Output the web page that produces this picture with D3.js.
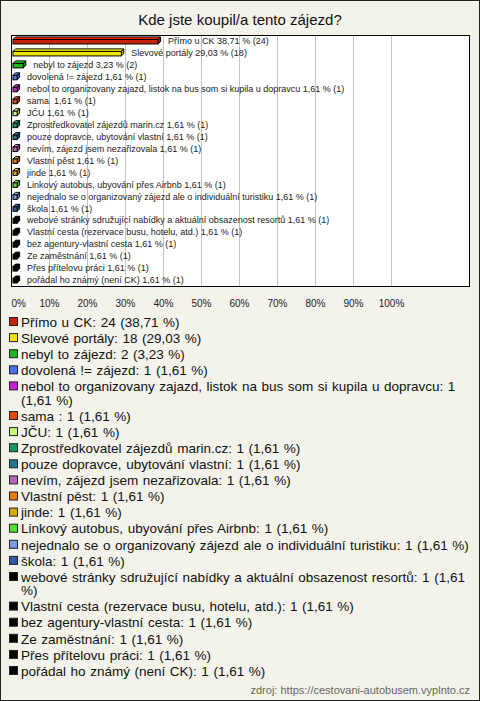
<!DOCTYPE html>
<html><head><meta charset="utf-8">
<script src="https://cdn.jsdelivr.net/npm/d3@7/dist/d3.min.js"></script>
<style>
body{margin:0;background:#fff;}
svg{display:block;font-family:Arial,"Liberation Sans",sans-serif;}
</style></head>
<body>
<svg id="c" width="480" height="701"></svg>
<script>
const title = "Kde jste koupil/a tento zájezd?";
const categories = [
  "Přímo u CK","Slevové portály","nebyl to zájezd","dovolená != zájezd",
  "nebol to organizovany zajazd, listok na bus som si kupila u dopravcu",
  "sama ","JČU","Zprostředkovatel zájezdů marin.cz","pouze dopravce, ubytování vlastní",
  "nevím, zájezd jsem nezařizovala","Vlastní pěst","jinde","Linkový autobus, ubyování přes Airbnb",
  "nejednalo se o organizovaný zájezd ale o individuální turistiku","škola",
  "webové stránky sdružující nabídky a aktuální obsazenost resortů",
  "Vlastní cesta (rezervace busu, hotelu, atd.)","bez agentury-vlastní cesta","Ze zaměstnání",
  "Přes přítelovu práci","pořádal ho známý (není CK)"
];
const counts = [24,18,2,1,1,1,1,1,1,1,1,1,1,1,1,1,1,1,1,1,1];
const percents = [38.71,29.03,3.23,1.61,1.61,1.61,1.61,1.61,1.61,1.61,1.61,1.61,1.61,1.61,1.61,1.61,1.61,1.61,1.61,1.61,1.61];
const colors = ["#c8220e","#f5e400","#1db51d","#4a70ee","#c81fd6","#e84612","#c9fa7a","#129a62",
  "#217b88","#b866b8","#e87a0a","#dca80a","#55dd33","#7b9bea","#3356a8",
  "#000000","#000000","#000000","#000000","#000000","#000000"];
const tickValues = [0,10,20,30,40,50,60,70,80,90,100];
const source = "zdroj: https://cestovani-autobusem.vyplnto.cz";

const fmt = v => v.toFixed(2).replace(".", ",");
const svg = d3.select("#c");
const W = 480, H = 701;

svg.append("rect").attr("x",0.5).attr("y",0.5).attr("width",W-1).attr("height",H-1)
  .attr("fill","#f4f3eb").attr("stroke","#222");

svg.append("text").attr("x",240).attr("y",25).attr("text-anchor","middle")
  .attr("font-size",15).attr("fill","#111").text(title);

const plot = {l:11, r:470, t:35, b:286};
const x = d3.scaleLinear().domain([0,100]).range([plot.l, 391]);
const y = d3.scaleBand().domain(d3.range(categories.length)).range([plot.t, plot.b]);

svg.append("rect").attr("x",plot.l+0.5).attr("y",plot.t+0.5)
  .attr("width",plot.r-plot.l-1).attr("height",plot.b-plot.t).attr("fill","#fff");

// gridlines
const grid = svg.append("g").attr("transform",`translate(0,${plot.b})`)
  .call(d3.axisBottom(x).tickValues(tickValues.slice(1)).tickSize(-(plot.b-plot.t)).tickFormat(""));
grid.select(".domain").remove();
grid.selectAll("line").attr("stroke","#c4c4c4").attr("shape-rendering","crispEdges");

// bars
const d = 2.5, bh = 4.5;
const g = svg.append("g");
categories.forEach((c,i)=>{
  const cy = y(i) + y.bandwidth()/2;
  const x0 = x(0)+2, x1 = x(percents[i]);
  const top = cy-1.5, bot = top+bh;
  const col = d3.color(colors[i]);
  g.append("polygon").attr("points",`${x0},${top} ${x1},${top} ${x1+d},${top-d} ${x0+d},${top-d}`)
    .attr("fill",col.brighter(0.7)).attr("stroke","#000").attr("stroke-width",1).attr("stroke-linejoin","round");
  g.append("polygon").attr("points",`${x1},${top} ${x1+d},${top-d} ${x1+d},${bot-d} ${x1},${bot}`)
    .attr("fill",col.darker(0.7)).attr("stroke","#000").attr("stroke-width",1).attr("stroke-linejoin","round");
  g.append("rect").attr("x",x0).attr("y",top).attr("width",x1-x0).attr("height",bh)
    .attr("fill",colors[i]).attr("stroke","#000").attr("stroke-width",1);
  g.append("text").attr("x",x1+10).attr("y",cy+3.2).attr("font-size",9).attr("fill","#222")
    .style("white-space","pre")
    .text(`${c} ${fmt(percents[i])} % (${counts[i]})`);
});

// plot border
svg.append("rect").attr("x",plot.l+0.5).attr("y",plot.t+0.5)
  .attr("width",plot.r-plot.l-1).attr("height",plot.b-plot.t).attr("fill","none").attr("stroke","#000");

// tick labels
const ax = svg.append("g").attr("transform",`translate(0,${plot.b})`)
  .call(d3.axisBottom(x).tickValues(tickValues).tickSize(0).tickPadding(14).tickFormat(v=>v+"%"));
ax.select(".domain").remove();
ax.selectAll("text").attr("font-size",10).attr("fill","#222").attr("font-family","Arial,'Liberation Sans',sans-serif")
  .filter(v=>v===0).attr("text-anchor","start");

// legend
const lg = svg.append("g");
let ly = 322;
const maxW = 454;
categories.forEach((c,i)=>{
  const label = `${c}: ${counts[i]} (${fmt(percents[i])} %)`;
  lg.append("rect").attr("x",9.5).attr("y",ly-4.5).attr("width",8).attr("height",8)
    .attr("fill",colors[i]).attr("stroke","#222");
  const t = lg.append("text").attr("x",21).attr("y",ly+4.7).attr("font-size",13.5)
    .attr("word-spacing",0.8).attr("fill","#111")
    .style("white-space","pre");
  const words = label.split(" ");
  let line = [], tsp = t.append("tspan").attr("x",21);
  let lines = 1;
  words.forEach(w=>{
    line.push(w);
    tsp.text(line.join(" "));
    if (tsp.node().getComputedTextLength() > maxW && line.length>1){
      line.pop(); tsp.text(line.join(" "));
      line=[w];
      tsp = t.append("tspan").attr("x",21).attr("dy",13.5).text(w);
      lines++;
    }
  });
  ly += 16.1 + (lines-1)*13.5;
});

svg.append("text").attr("x",470).attr("y",694).attr("text-anchor","end")
  .attr("font-size",11).attr("fill","#666").text(source);
</script>
</body></html>
